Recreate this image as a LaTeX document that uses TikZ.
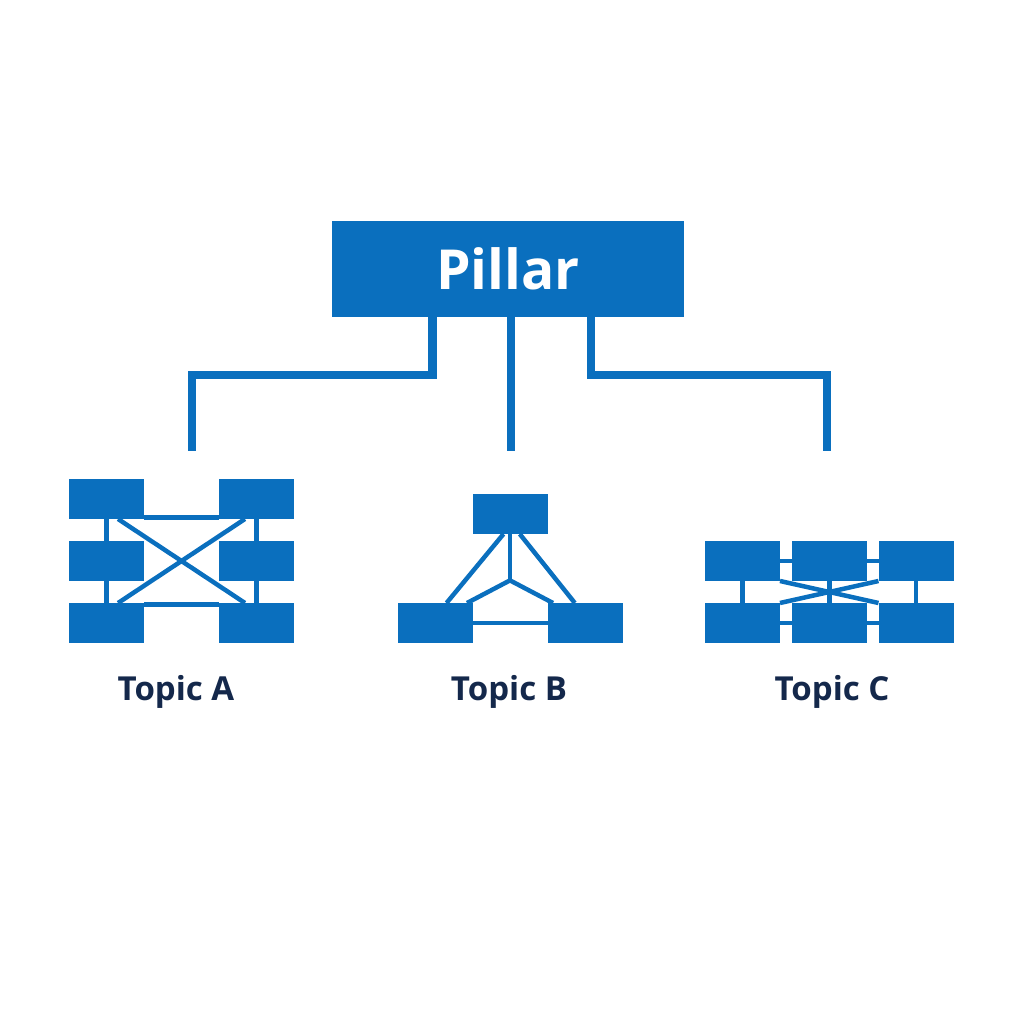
\documentclass[tikz,border=0pt]{standalone}
\usepackage{fontspec}
\setmainfont{Open Sans}
\usetikzlibrary{calc}
\definecolor{pillarblue}{HTML}{0A6FBE}
\definecolor{topicnavy}{HTML}{14284B}
\tikzstyle{head}=[rectangle,
                  fill=pillarblue,
                  text=white,
                  inner sep=0pt,
                  outer sep=0pt,
                  minimum width=3.52cm,
                  minimum height=0.96cm,
                  font=\fontsize{15.7}{18}\selectfont\bfseries]
\tikzstyle{leaf}=[rectangle,
                  fill=pillarblue,
                  inner sep=0pt,
                  outer sep=0pt,
                  minimum width=0.75cm,
                  minimum height=0.4cm]
\tikzstyle{topic}=[anchor=base,
                   inner sep=0pt,
                   text=topicnavy,
                   font=\fontsize{9.4}{11}\selectfont\bfseries]
\tikzstyle{trunk}=[draw=pillarblue, line width=0.087cm]
\tikzstyle{link}=[draw=pillarblue, line width=0.045cm]

\begin{document}
\begin{tikzpicture}
      \useasboundingbox (0,0) rectangle (10.24,10.24);

      \node [head] (pillar) at (5.08,7.55) {Pillar};
      \coordinate (elbow_a) at (4.325,6.49);
      \coordinate (elbow_c) at (5.91,6.49);
      \coordinate (drop_a) at (1.92,5.73);
      \coordinate (drop_b) at (5.11,5.73);
      \coordinate (drop_c) at (8.27,5.73);

      % topic a
      \node [leaf] (a_1) at (1.065,5.25) {};
      \node [leaf, below of=a_1, node distance=0.62cm] (a_2) {};
      \node [leaf, below of=a_2, node distance=0.62cm] (a_3) {};
      \node [leaf, right of=a_1, node distance=1.5cm] (a_4) {};
      \node [leaf, below of=a_4, node distance=0.62cm] (a_5) {};
      \node [leaf, below of=a_5, node distance=0.62cm] (a_6) {};
      \node [topic] (topic_a) at (1.76,3.23) {Topic A};

      % topic b
      \node [leaf] (b_1) at (5.10,5.10) {};
      \node [leaf] (b_2) at (4.35,4.01) {};
      \node [leaf, right of=b_2, node distance=1.5cm] (b_3) {};
      \coordinate [below of=b_1, node distance=0.664cm] (hub);
      \node [topic] (topic_b) at (5.09,3.23) {Topic B};

      % topic c
      \node [leaf] (c_1) at (7.425,4.63) {};
      \node [leaf, right of=c_1, node distance=0.87cm] (c_2) {};
      \node [leaf, right of=c_2, node distance=0.865cm] (c_3) {};
      \node [leaf, below of=c_1, node distance=0.62cm] (c_4) {};
      \node [leaf, below of=c_2, node distance=0.62cm] (c_5) {};
      \node [leaf, below of=c_3, node distance=0.62cm] (c_6) {};
      \node [topic] (topic_c) at (8.32,3.23) {Topic C};

      \path [trunk] (pillar.south -| elbow_a) -- (elbow_a) -| (drop_a);
      \path [trunk] (pillar.south -| drop_b) -- (drop_b);
      \path [trunk] (pillar.south -| elbow_c) -- (elbow_c) -| (drop_c);

      \path [link] (a_1.south) edge (a_2.north);
      \path [link] (a_2.south) edge (a_3.north);
      \path [link] (a_4.south) edge (a_5.north);
      \path [link] (a_5.south) edge (a_6.north);
      \path [link] (a_1.-26) edge (a_4.-154);
      \path [link] (a_3.26) edge (a_6.154);
      \path [link] (a_1.-60) edge (a_6.120);
      \path [link] (a_4.-120) edge (a_3.60);

      \path [link] (b_1.south) edge (hub);
      \path [link] (hub) edge (b_2.32);
      \path [link] (hub) edge (b_3.148);
      \path [link] (b_1.-108) edge (b_2.60);
      \path [link] (b_1.-64) edge (b_3.117);
      \path [link] (b_2.east) edge (b_3.west);

      \path [link] (c_1.east) edge (c_2.west);
      \path [link] (c_2.east) edge (c_3.west);
      \path [link] (c_4.east) edge (c_5.west);
      \path [link] (c_5.east) edge (c_6.west);
      \path [link] (c_1.south) edge (c_4.north);
      \path [link] (c_2.south) edge (c_5.north);
      \path [link] (c_3.south) edge (c_6.north);
      \path [link] (c_1.south east) edge (c_6.north west);
      \path [link] (c_4.north east) edge (c_3.south west);
\end{tikzpicture}
\end{document}
